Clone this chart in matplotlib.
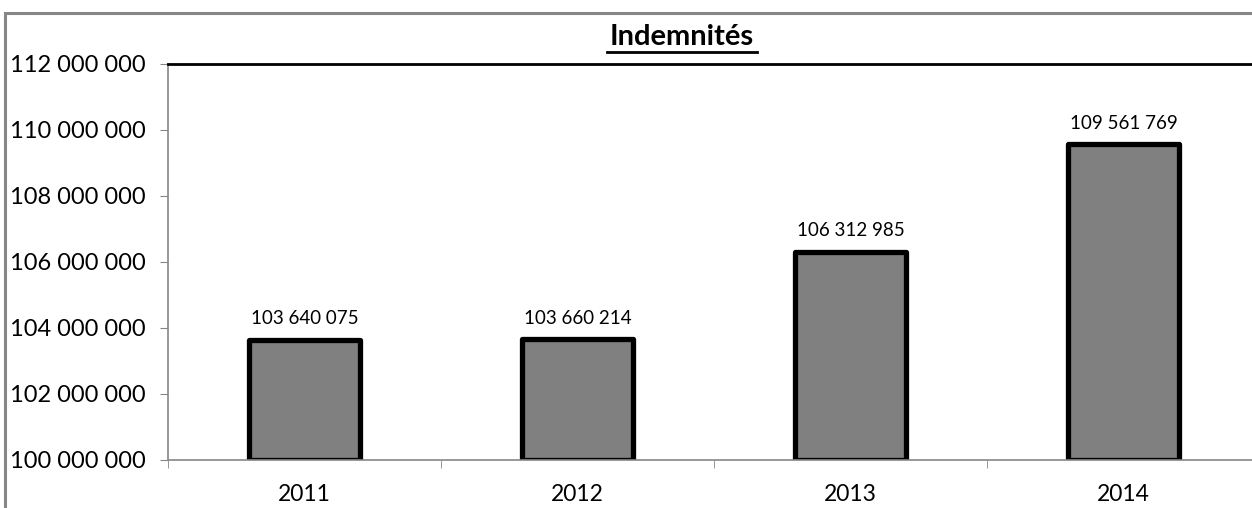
import matplotlib
matplotlib.use("Agg")
import matplotlib.pyplot as plt
from matplotlib.patches import Rectangle
from matplotlib.ticker import FixedLocator, FuncFormatter

years = ["2011", "2012", "2013", "2014"]
indemnites = [103640075, 103660214, 106312985, 109561769]
y_ticks = [100000000, 102000000, 104000000, 106000000, 108000000, 110000000, 112000000]

plt.rcParams['font.family'] = ['Lato', 'DejaVu Sans']

def fmt(v):
    return "{:,}".format(int(v)).replace(",", " ")

fig = plt.figure(figsize=(12.52, 5.08), dpi=100)
# chart area frame (cut off on the right and bottom)
fig.patches.append(Rectangle((5 / 1252, -0.1), 1.2, 1 - 13 / 508 + 0.1,
                             transform=fig.transFigure, fill=False,
                             edgecolor="#868686", linewidth=2.2))

ax = fig.add_axes([168 / 1252, 1 - 460 / 508, 1092 / 1252, 396 / 508])
x = range(len(years))
ax.bar(x, [v - 100000000 for v in indemnites], bottom=100000000, width=0.41,
       color="#808080", edgecolor="black", linewidth=3.8, joinstyle="round")

for i, v in enumerate(indemnites):
    ax.annotate(fmt(v), (i, v), xytext=(0, 9), textcoords="offset points",
                ha="center", va="bottom", fontsize=13.5)

ax.set_xlim(-0.5, 3.5)
ax.set_ylim(100000000, 112000000)
ax.set_yticks(y_ticks)
ax.yaxis.set_major_formatter(FuncFormatter(lambda v, p: fmt(v)))
ax.set_xticks(list(x))
ax.set_xticklabels(years)
ax.xaxis.set_minor_locator(FixedLocator([-0.5, 0.5, 1.5, 2.5, 3.5]))
ax.tick_params(axis="x", which="major", length=0, pad=17, labelsize=16.5)
ax.tick_params(axis="x", which="minor", length=6, color="#868686", direction="out")
ax.tick_params(axis="y", length=6, color="#868686", labelsize=17, pad=10)

for s in ["left", "bottom"]:
    ax.spines[s].set_color("#868686")
    ax.spines[s].set_linewidth(1.2)
ax.spines["top"].set_color("black")
ax.spines["top"].set_linewidth(2)
ax.spines["right"].set_visible(False)

fig.text(682 / 1252, 1 - 37 / 508, "Indemnités", ha="center", va="center",
         fontsize=21, fontweight="bold")
fig.add_artist(plt.Line2D([607 / 1252, 757 / 1252], [1 - 52 / 508, 1 - 52 / 508],
                          color="black", linewidth=2))

fig.savefig("out.png", dpi=100)
